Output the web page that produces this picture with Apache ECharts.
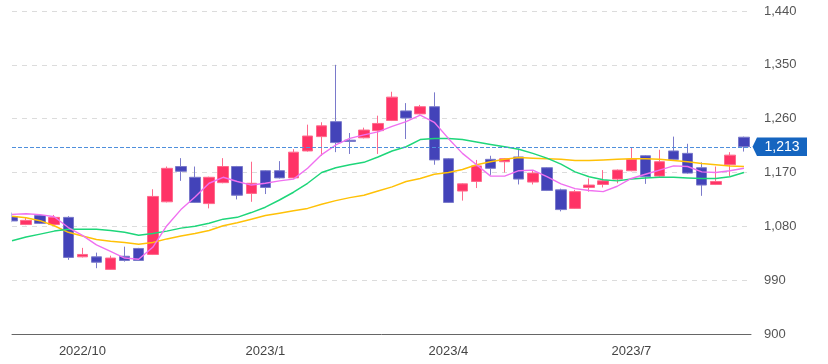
<!DOCTYPE html>
<html>
<head>
<meta charset="utf-8">
<script src="https://cdn.jsdelivr.net/npm/echarts@6/dist/echarts.min.js"></script>
<style>html,body{margin:0;padding:0;background:#fff;}#c{width:828px;height:364px;}</style>
</head>
<body>
<div id="c"></div>
<script>
const dates = ['2022/8/29','2022/9/5','2022/9/12','2022/9/19','2022/9/26','2022/10/3','2022/10/10','2022/10/17','2022/10/24','2022/10/31','2022/11/7','2022/11/14','2022/11/21','2022/11/28','2022/12/5','2022/12/12','2022/12/19','2022/12/26','2023/1/2','2023/1/9','2023/1/16','2023/1/23','2023/1/30','2023/2/6','2023/2/13','2023/2/20','2023/2/27','2023/3/6','2023/3/13','2023/3/20','2023/3/27','2023/4/3','2023/4/10','2023/4/17','2023/4/24','2023/5/1','2023/5/8','2023/5/15','2023/5/22','2023/5/29','2023/6/5','2023/6/12','2023/6/19','2023/6/26','2023/7/3','2023/7/10','2023/7/17','2023/7/24','2023/7/31','2023/8/7','2023/8/14','2023/8/21','2023/8/28'];
// [open, close, low, high]
const ohlc = [
[1096,1089,1087,1103],[1083,1090,1082,1095],[1098,1085,1084,1100],[1083,1095,1082,1099],[1095,1028,1024,1097],
[1029,1033,1028,1044],[1029,1020,1010,1036],[1008,1027,1007,1031],[1030,1023,1021,1046],[1043,1023,1022,1044],
[1033,1130,1032,1142],[1121,1177,1120,1180],[1180,1172,1156,1194],[1162,1120,1119,1180],[1118,1162,1110,1163],
[1153,1180,1152,1194],[1180,1132,1125,1181],[1135,1152,1121,1188],[1173,1145,1134,1174],[1173,1161,1160,1189],
[1161,1204,1160,1209],[1206,1231,1205,1250],[1230,1248,1198,1254],[1255,1220,1204,1350],[1224,1222,1201,1236],
[1228,1241,1227,1245],[1240,1252,1201,1265],[1257,1296,1256,1305],[1273,1261,1226,1286],[1268,1280,1267,1283],
[1280,1191,1183,1304],[1193,1120,1119,1194],[1139,1151,1123,1152],[1155,1181,1144,1191],[1192,1177,1166,1198],
[1188,1193,1170,1194],[1196,1159,1150,1210],[1154,1169,1150,1174],[1178,1140,1139,1179],[1141,1108,1105,1143],
[1110,1138,1109,1141],[1145,1149,1138,1160],[1150,1156,1145,1174],[1159,1174,1152,1175],[1173,1192,1172,1211],
[1198,1163,1151,1199],[1164,1188,1163,1208],[1206,1192,1191,1230],[1202,1169,1168,1218],[1178,1149,1131,1187],
[1150,1155,1149,1180],[1183,1199,1164,1204],[1229,1213,1205,1230]
];
const maShort = [1100,1101,1099.5,1096,1078,1065,1049,1038,1027,1025,1045,1081,1108,1129,1152,1162,1155,1149,1152,1156,1159,1177,1200,1216,1227,1233,1238,1247,1255,1266,1254,1227,1202,1183,1164,1164,1173,1174,1163,1151,1143,1140,1138,1147,1160,1167,1174,1181,1180,1171,1170,1173,1177];
const maMid = [1056,1062,1067,1072,1075,1075,1075,1073,1070,1065,1068,1072,1077,1080,1085,1092,1095,1103,1112,1124,1137,1152,1170,1178,1183,1187,1196,1206,1213,1225,1227,1227,1225,1221,1217,1213,1209,1202,1194,1184,1171,1163,1158,1156,1159,1161,1162,1162,1161,1160,1160,1163,1170];
const maLong = [1097,1094.5,1089.5,1081,1070,1064,1058,1055,1053,1050,1053,1059,1064,1068,1073,1081,1086,1092,1098,1102,1106,1110,1117,1123,1128,1132,1139,1146,1155,1160,1167,1170,1175,1183,1188,1192,1195,1194,1193,1192,1190,1190,1191,1192,1193,1193,1192,1190,1188,1185,1183,1181,1180];
const tickDates = ['2022/10/3','2023/1/2','2023/4/3','2023/7/3'];
const tickLabels = ['2022/10','2023/1','2023/4','2023/7'];
const yTicks = [900,990,1080,1170,1260,1350,1440];
const currentPrice = 1213;

const fmt = v => Math.round(v).toString().replace(/\B(?=(\d{3})+(?!\d))/g, ',');
const tickIdx = tickDates.map(d => dates.indexOf(d));
const candleData = ohlc.map((c, i) => [i, c[0], c[1], c[2], c[3]]);
const lineData = arr => arr.map((v, i) => [i, v]);

const chart = echarts.init(document.getElementById('c'), null, {renderer: 'canvas'});
const FONT = 'Liberation Sans, Arial, sans-serif';
chart.setOption({
  animation: false,
  grid: {left: 12, right: 77, top: 11, bottom: 30},
  xAxis: {
    type: 'value', min: 0, max: dates.length - 0.5,
    splitLine: {show: false},
    axisTick: {show: false},
    axisLine: {show: true, onZero: false, lineStyle: {color: '#666', width: 1}},
    axisLabel: {
      customValues: tickIdx, margin: 11, color: '#444', fontSize: 13, fontFamily: FONT,
      formatter: v => { const k = tickIdx.indexOf(Math.round(v)); return k >= 0 ? tickLabels[k] : ''; }
    }
  },
  yAxis: {
    type: 'value', position: 'right', min: yTicks[0], max: yTicks[yTicks.length - 1], interval: 90,
    axisLine: {show: false}, axisTick: {show: false},
    splitLine: {show: true, lineStyle: {color: '#dcdcdc', type: [5, 5], width: 1}},
    axisLabel: {margin: 13, color: '#555', fontSize: 13, fontFamily: FONT, formatter: v => fmt(v)}
  },
  series: [
    {
      type: 'candlestick', data: candleData, encode: {x: 0, y: [1, 2, 3, 4]},
      barWidth: 11, clip: true,
      itemStyle: {color: '#ff3366', color0: '#4343b9', borderColor: '#ff6a8c', borderColor0: '#7a7acb', borderWidth: 1}
    },
    {type: 'line', data: lineData(maLong), symbol: 'none', clip: true, lineStyle: {color: '#ffc107', width: 1.5}, z: 3},
    {type: 'line', data: lineData(maMid), symbol: 'none', clip: true, lineStyle: {color: '#1ed67a', width: 1.5}, z: 3},
    {type: 'line', data: lineData(maShort), symbol: 'none', clip: true, lineStyle: {color: '#f070f0', width: 1.4}, z: 3,
      markLine: {
        silent: true, symbol: 'none', animation: false,
        lineStyle: {color: '#4f8fdc', type: [4, 2], width: 1, opacity: 1},
        label: {show: false},
        data: [{yAxis: currentPrice}]
      }
    }
  ]
});

const p = chart.convertToPixel({gridIndex: 0}, [dates.length - 0.5, currentPrice]);
const pl = chart.convertToPixel({gridIndex: 0}, [0, yTicks[yTicks.length - 1]]);
const pb = chart.convertToPixel({gridIndex: 0}, [0, yTicks[0]]);
const x0 = p[0], y0 = p[1];
chart.setOption({
  graphic: [
    {type: 'rect', z: 50, shape: {x: 0, y: pl[1] - 5, width: pl[0] - 0.5, height: pb[1] - pl[1] + 4}, style: {fill: '#fff'}},
    {
    type: 'group', z: 100,
    children: [
      {type: 'polygon', shape: {points: [[x0 + 1.5, y0], [x0 + 6, y0 - 9.3], [x0 + 56, y0 - 9.3], [x0 + 56, y0 + 9.3], [x0 + 6, y0 + 9.3]]}, style: {fill: '#1565c0'}},
      {type: 'text', x: x0 + 31, y: y0 + 0.5, style: {text: fmt(currentPrice), fill: '#fff', font: '14px ' + FONT, align: 'center', verticalAlign: 'middle'}}
    ]
  }]
});
</script>
</body>
</html>
